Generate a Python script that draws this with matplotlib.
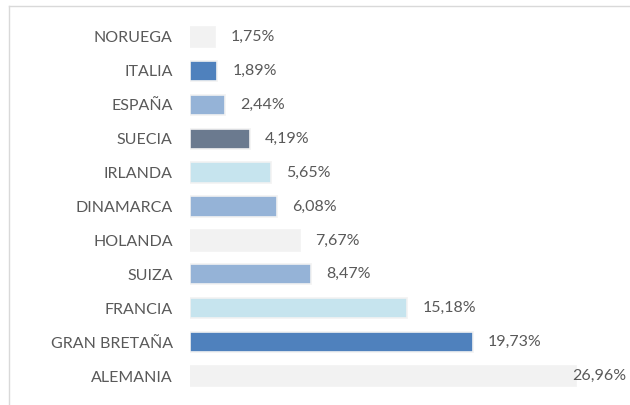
import matplotlib.pyplot as plt
from matplotlib.lines import Line2D

countries = ["NORUEGA", "ITALIA", "ESPAÑA", "SUECIA", "IRLANDA", "DINAMARCA",
             "HOLANDA", "SUIZA", "FRANCIA", "GRAN BRETAÑA", "ALEMANIA"]
values = [1.75, 1.89, 2.44, 4.19, 5.65, 6.08, 7.67, 8.47, 15.18, 19.73, 26.96]
colors = ["#f2f2f2", "#4f81bd", "#95b3d7", "#6b7a8f", "#c6e4ee", "#95b3d7",
          "#f2f2f2", "#95b3d7", "#c6e4ee", "#4f81bd", "#f2f2f2"]

FONT = "Lato"
W, H = 630, 405
fig = plt.figure(figsize=(W / 100, H / 100), dpi=100)
ax = fig.add_axes([190 / W, 1 - 393 / H, (626 - 190) / W, (393 - 20) / H])

ypos = list(range(len(countries)))
ax.barh(ypos, values, height=0.6, color=colors, edgecolor="#f2f2f2", linewidth=1.2)
ax.set_ylim(len(countries) - 0.5, -0.5)
xmax = (626 - 190) / 14.32
ax.set_xlim(0, xmax)

ax.set_yticks(ypos)
ax.set_yticklabels(countries, fontsize=11.5, color="#595959", family=FONT)
ax.tick_params(axis="y", length=0, pad=12.5)
ax.set_xticks([])
for s in ax.spines.values():
    s.set_visible(False)

for y, v in zip(ypos, values):
    txt = f"{v:.2f}%".replace(".", ",")
    if v > 0.85 * xmax:
        ax.text(xmax, y, txt, ha="right", va="center", fontsize=11.5,
                color="#595959", family=FONT)
    else:
        ax.annotate(txt, (v, y), xytext=(11, 0), textcoords="offset points",
                    ha="left", va="center", fontsize=11.5, color="#595959",
                    family=FONT)

# chart frame
fig.add_artist(Line2D([8.5 / W, 8.5 / W], [0, 1 - 5.5 / H], transform=fig.transFigure,
                      color="#d9d9d9", lw=1))
fig.add_artist(Line2D([8.5 / W, 1], [1 - 5.5 / H, 1 - 5.5 / H], transform=fig.transFigure,
                      color="#d9d9d9", lw=1))

fig.savefig("out.png", dpi=100)
plt.close(fig)
